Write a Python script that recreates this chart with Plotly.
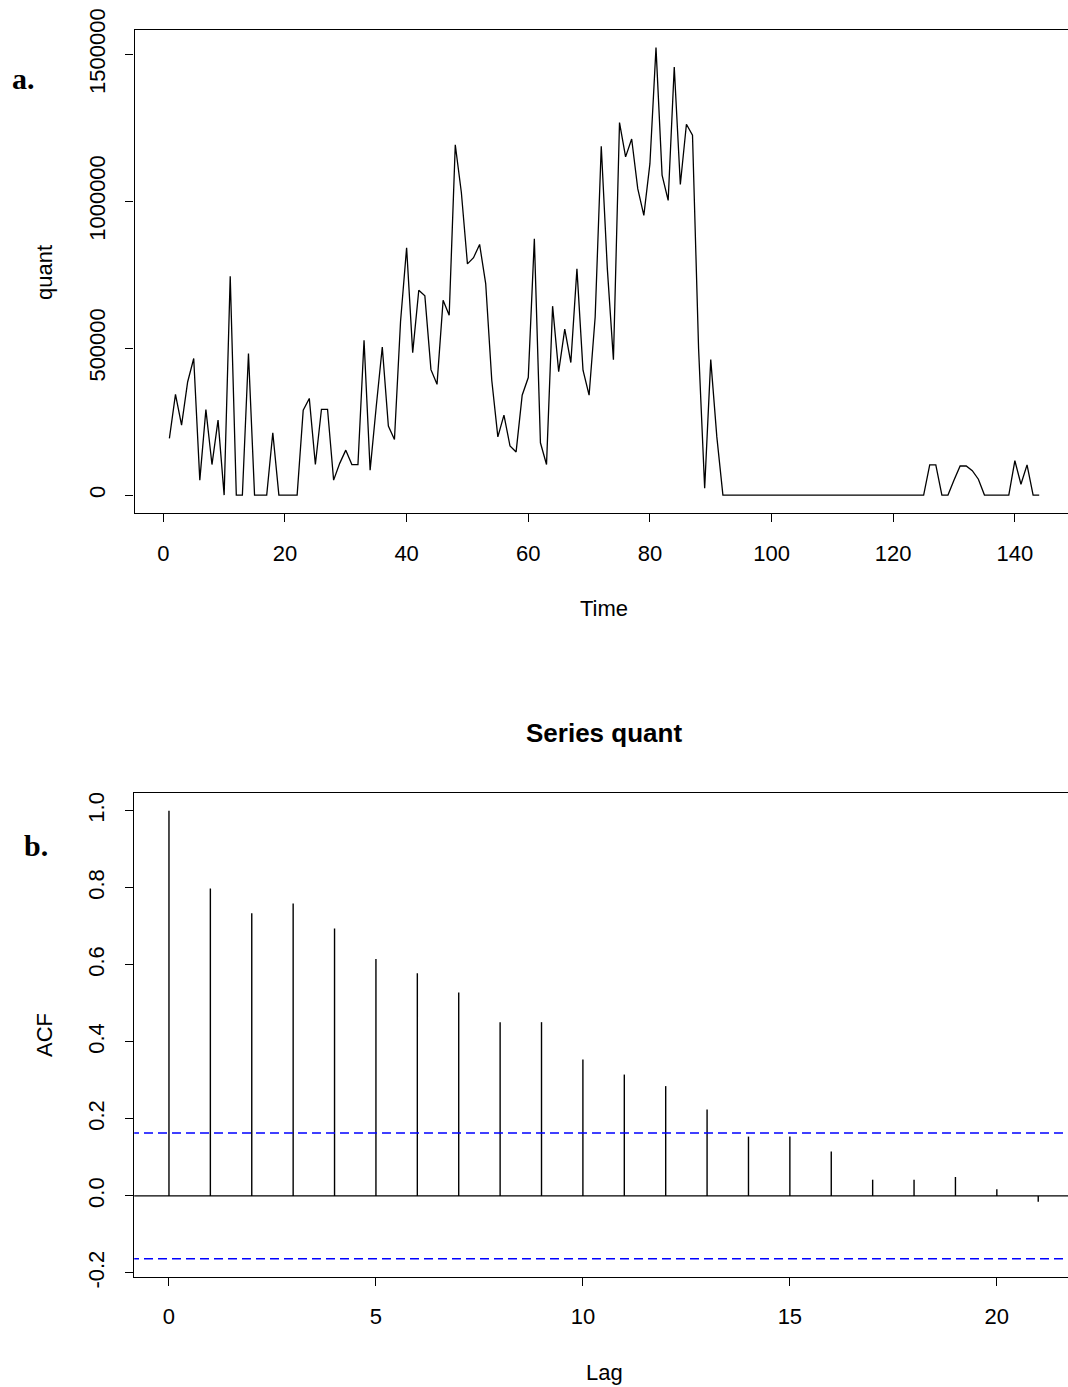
import plotly.graph_objects as go

# Monthly quantity series (t = 1..144)
quant = [
    193000, 343000, 238000, 385000, 465000, 51000, 291000, 104000, 255000, 0,
    745000, 0, 0, 482000, 0, 0, 0, 212000, 0, 0,
    0, 0, 289000, 329000, 104000, 292000, 292000, 51000, 108000, 153000,
    104000, 104000, 527000, 85000, 300000, 504000, 235000, 189000, 590000, 842000,
    485000, 697000, 678000, 427000, 377000, 663000, 612000, 1192000, 1030000, 787000,
    808000, 853000, 720000, 391000, 198000, 272000, 167000, 147000, 340000, 400000,
    872000, 178000, 104000, 643000, 420000, 565000, 451000, 770000, 425000, 340000,
    607000, 1187000, 770000, 461000, 1268000, 1151000, 1212000, 1043000, 952000, 1128000,
    1523000, 1089000, 1003000, 1457000, 1057000, 1262000, 1225000, 499000, 23000, 461000,
    198000, 0, 0, 0, 0, 0, 0, 0, 0, 0,
    0, 0, 0, 0, 0, 0, 0, 0, 0, 0,
    0, 0, 0, 0, 0, 0, 0, 0, 0, 0,
    0, 0, 0, 0, 0, 103000, 103000, 0, 0, 51000,
    99000, 99000, 83000, 54000, 0, 0, 0, 0, 0, 117000,
    37000, 103000, 0, 0,
]
time = list(range(1, len(quant) + 1))

# Sample autocorrelations, lags 0..21
lags = list(range(0, 22))
acf_vals = [1.0, 0.798, 0.734, 0.759, 0.694, 0.615, 0.578, 0.528, 0.451, 0.451,
            0.354, 0.315, 0.285, 0.224, 0.154, 0.154, 0.115, 0.042, 0.042, 0.049,
            0.017, -0.015]
conf_limit = 0.1633  # 1.96 / sqrt(144)

time_ticks = [0, 20, 40, 60, 80, 100, 120, 140]
quant_ticks = [0, 500000, 1000000, 1500000]
quant_tick_labels = ["0", "500000", "1000000", "1500000"]
lag_ticks = [0, 5, 10, 15, 20]
acf_ticks = [-0.2, 0.0, 0.2, 0.4, 0.6, 0.8, 1.0]
acf_tick_labels = ["-0.2", "0.0", "0.2", "0.4", "0.6", "0.8", "1.0"]

W, H = 1068, 1387
FONT = "Liberation Sans, Arial, sans-serif"
SERIF = "Liberation Serif, Times New Roman, serif"


def fx(px):
    return px / W


def fy(py):
    return 1 - py / H


def padded(lo, hi, frac=0.04):
    d = (hi - lo) * frac
    return [lo - d, hi + d]


fig = go.Figure()

# Panel a: time series
fig.add_trace(go.Scatter(
    x=time, y=quant, mode="lines",
    line=dict(color="black", width=1.3),
    xaxis="x", yaxis="y", showlegend=False, hoverinfo="skip",
))

# Panel b: ACF spikes
spike_x, spike_y = [], []
for lag, r in zip(lags, acf_vals):
    spike_x += [lag, lag, None]
    spike_y += [0, r, None]
fig.add_trace(go.Scatter(
    x=spike_x, y=spike_y, mode="lines",
    line=dict(color="black", width=1.4),
    xaxis="x2", yaxis="y2", showlegend=False, hoverinfo="skip",
))

# Confidence bounds
for c in (conf_limit, -conf_limit):
    fig.add_trace(go.Scatter(
        x=[-5, 30], y=[c, c], mode="lines",
        line=dict(color="#0000FF", width=1.4, dash="9px,5px"),
        xaxis="x2", yaxis="y2", showlegend=False, hoverinfo="skip",
    ))

# Zero reference line
fig.add_trace(go.Scatter(
    x=[-5, 30], y=[0, 0], mode="lines",
    line=dict(color="black", width=1.3),
    xaxis="x2", yaxis="y2", showlegend=False, hoverinfo="skip",
))

t_range = padded(min(time), max(time))
t_scale = (1074.0 - 134.6) / (t_range[1] - t_range[0])
t_right = t_range[0] + (W - 134.6) / t_scale

l_range = padded(min(lags), max(lags))
l_scale = (1073.0 - 134.2) / (l_range[1] - l_range[0])
l_right = l_range[0] + (W - 134.2) / l_scale

q_range = padded(min(quant), max(quant))
a_range = padded(min(min(acf_vals), -conf_limit), max(max(acf_vals), conf_limit))

axis_common = dict(
    showgrid=False, zeroline=False, showline=True, linecolor="black",
    linewidth=1.3, ticks="outside", ticklen=8, tickwidth=1.3,
    tickcolor="black", tickfont=dict(family=FONT, size=22, color="black"),
    automargin=False,
)

fig.update_layout(
    template="none",
    width=W, height=H,
    margin=dict(l=0, r=0, t=0, b=0, pad=0, autoexpand=False),
    paper_bgcolor="white", plot_bgcolor="white",
    xaxis=dict(domain=[fx(134.6), 1], range=[t_range[0], t_right],
               tickvals=time_ticks, mirror=True, anchor="y",
               ticklabelstandoff=12, **axis_common),
    yaxis=dict(domain=[fy(513), fy(29.7)], range=q_range,
               tickvals=quant_ticks, ticktext=quant_tick_labels,
               tickangle=-90, anchor="x", ticklabelstandoff=12, **axis_common),
    xaxis2=dict(domain=[fx(134.2), 1], range=[l_range[0], l_right],
                tickvals=lag_ticks, mirror=True, anchor="y2",
                ticklabelstandoff=12, **axis_common),
    yaxis2=dict(domain=[fy(1276.7), fy(792.8)], range=a_range,
                tickvals=acf_ticks, ticktext=acf_tick_labels,
                tickangle=-90, anchor="x2", ticklabelstandoff=12, **axis_common),
)

annotations = [
    dict(text="quant", x=fx(44), y=fy(272), textangle=-90,
         font=dict(family=FONT, size=22)),
    dict(text="Time", x=fx(604), y=fy(608), font=dict(family=FONT, size=22)),
    dict(text="<b>Series quant</b>", x=fx(604), y=fy(733),
         font=dict(family=FONT, size=26)),
    dict(text="ACF", x=fx(44), y=fy(1035), textangle=-90,
         font=dict(family=FONT, size=22)),
    dict(text="Lag", x=fx(604), y=fy(1372), font=dict(family=FONT, size=22)),
    dict(text="<b>a.</b>", x=fx(23), y=fy(78), font=dict(family=SERIF, size=30)),
    dict(text="<b>b.</b>", x=fx(36), y=fy(845), font=dict(family=SERIF, size=30)),
]
for a in annotations:
    a.update(xref="paper", yref="paper", showarrow=False,
             xanchor="center", yanchor="middle")
    a["font"]["color"] = "black"
fig.update_layout(annotations=annotations)

fig.write_html("out.html")
